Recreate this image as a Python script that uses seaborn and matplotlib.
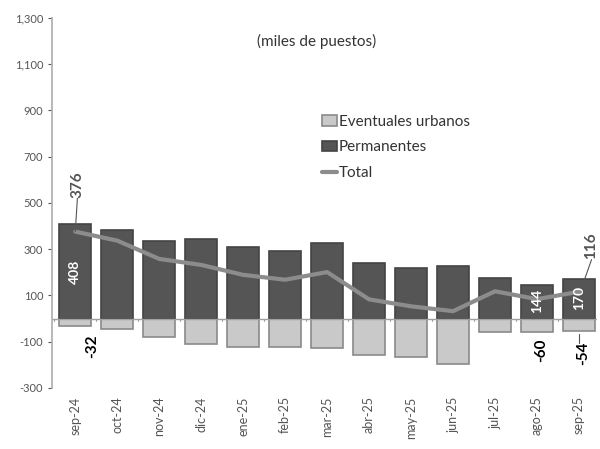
import numpy as np
import matplotlib
matplotlib.use('Agg')
import matplotlib.pyplot as plt
import seaborn as sns
from matplotlib.ticker import FuncFormatter

meses = ['sep-24', 'oct-24', 'nov-24', 'dic-24', 'ene-25', 'feb-25', 'mar-25',
         'abr-25', 'may-25', 'jun-25', 'jul-25', 'ago-25', 'sep-25']
permanentes = [408, 383, 337, 344, 311, 291, 327, 241, 218, 229, 175, 144, 170]
eventuales = [-32, -46, -79, -112, -122, -123, -126, -158, -165, -197, -57, -60, -54]
total = [376, 337, 258, 232, 189, 168, 201, 83, 53, 32, 118, 84, 116]

sns.set_theme(style='white')
plt.rcParams['font.family'] = ['Lato', 'DejaVu Sans']

fig = plt.figure(figsize=(6, 4.49), dpi=100)
ax = fig.add_axes([0.087, 0.136, 0.908, 0.824])

x = np.arange(len(meses))
sns.barplot(x=meses, y=eventuales, color='#c9c9c9', edgecolor='#8a8a8a',
            linewidth=1.2, width=0.76, saturation=1, ax=ax, label='Eventuales urbanos')
sns.barplot(x=meses, y=permanentes, color='#555555', edgecolor='#444444',
            linewidth=1.2, width=0.76, saturation=1, ax=ax, label='Permanentes')
sns.lineplot(x=x, y=total, sort=False, color='#8c8c8c', linewidth=3, ax=ax, label='Total')

ax.axhline(0, color='#a0a0a0', linewidth=1)
for xi in np.arange(-0.5, len(meses), 1):
    ax.plot([xi, xi], [0, -12], color='#a0a0a0', linewidth=0.8)

ax.set_ylim(-300, 1300)
ax.set_xlim(-0.55, 12.43)
ax.set_yticks(np.arange(-300, 1301, 200))
ax.yaxis.set_major_formatter(FuncFormatter(lambda v, p: f'{int(v):,}'))
ax.tick_params(axis='y', labelsize=8, colors='#555555', length=3, left=True, width=0.8)
ax.tick_params(axis='x', labelsize=9, colors='#555555', rotation=90, length=0, pad=6)
for s in ['top', 'right', 'bottom']:
    ax.spines[s].set_visible(False)
ax.spines['left'].set_color('#b0b0b0')
ax.set_xlabel('')
ax.set_ylabel('')

ax.text(5.75, 1200, '(miles de puestos)', fontsize=11, color='#333333', ha='center', va='center')

handles, labels = ax.get_legend_handles_labels()
orden = [labels.index(l) for l in ['Eventuales urbanos', 'Permanentes', 'Total']]
ax.legend([handles[i] for i in orden], [labels[i] for i in orden],
          loc='upper left', bbox_to_anchor=(0.47, 0.775), frameon=False, fontsize=11,
          handlelength=1.0, handletextpad=0.1, labelspacing=0.75, labelcolor='#333333')

# etiquetas
ax.text(0, 200, f'{permanentes[0]}', color='white', rotation=90, ha='center', va='center',
        fontsize=10, fontweight='bold')
ax.text(11, 75, f'{permanentes[11]}', color='white', rotation=90, ha='center', va='center',
        fontsize=10, fontweight='bold')
ax.text(12, 90, f'{permanentes[12]}', color='white', rotation=90, ha='center', va='center',
        fontsize=10, fontweight='bold')
ax.text(0.4, -70, f'{eventuales[0]}', color='black', rotation=90, ha='center', va='top',
        fontsize=11, fontweight='bold')
ax.text(11.1, -85, f'{eventuales[11]}', color='black', rotation=90, ha='center', va='top',
        fontsize=11, fontweight='bold')
ax.text(12.1, -100, f'{eventuales[12]}', color='black', rotation=90, ha='center', va='top',
        fontsize=11, fontweight='bold')
ax.plot([12, 12], [-65, -105], color='#555555', linewidth=0.8)
ax.text(0.05, 580, f'{total[0]}', color='#555555', rotation=90, ha='center', va='center',
        fontsize=11, fontweight='bold')
ax.plot([0, 0.05], [total[0], 520], color='#555555', linewidth=0.8)
ax.text(12.3, 315, f'{total[12]}', color='#555555', rotation=90, ha='center', va='center',
        fontsize=11, fontweight='bold')
ax.plot([12.05, 12.3], [total[12] + 10, 255], color='#555555', linewidth=0.8)

fig.savefig('out.png', dpi=100)
